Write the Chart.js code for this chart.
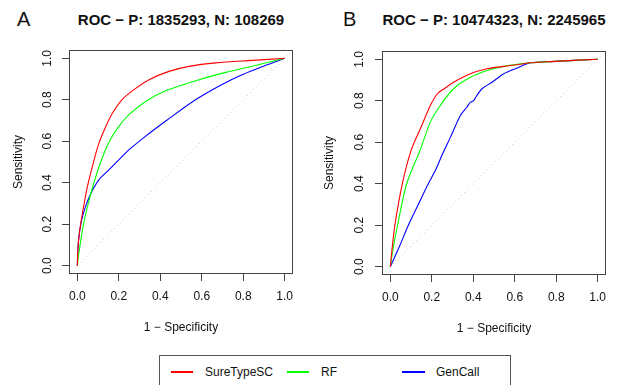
<!DOCTYPE html>
<html>
<head>
<meta charset="utf-8">
<script src="https://cdn.jsdelivr.net/npm/chart.js@4.4.1/dist/chart.umd.min.js"></script>
<style>
html,body{margin:0;padding:0;background:#fff;}
#wrap{position:relative;width:620px;height:385px;overflow:hidden;font-family:"Liberation Sans",Arial,Helvetica,sans-serif;color:#111;}
canvas{position:absolute;top:0;}
.ttl{position:absolute;font-weight:bold;font-size:15px;white-space:nowrap;transform:translate(-50%,-50%);top:19px;}
.let{position:absolute;font-size:20px;line-height:20px;top:9px;}
#legend{position:absolute;left:159px;top:355px;width:352px;height:60px;border:1px solid #555;box-sizing:border-box;}
.sw{position:absolute;height:1.5px;top:371px;}
.lt{position:absolute;font-size:12px;line-height:14px;top:364.5px;white-space:nowrap;}
</style>
</head>
<body>
<div id="wrap">
  <div class="let" style="left:17px;">A</div>
  <div class="ttl" id="titleA" style="left:181px;"></div>
  <div class="let" style="left:343px;">B</div>
  <div class="ttl" id="titleB" style="left:494px;"></div>
  <canvas id="cA" width="310" height="340" style="left:0;width:310px;height:340px;"></canvas>
  <canvas id="cB" width="310" height="340" style="left:310px;width:310px;height:340px;"></canvas>
  <div id="legend"></div>
  <div class="sw" style="left:171px;width:22px;background:#ff0000;"></div>
  <div class="lt" style="left:205px;" id="lg0"></div>
  <div class="sw" style="left:287px;width:22px;background:#00ff00;"></div>
  <div class="lt" style="left:321px;" id="lg1"></div>
  <div class="sw" style="left:402px;width:23px;background:#0000ff;"></div>
  <div class="lt" style="left:436px;" id="lg2"></div>
</div>
<script>
// ---------- data ----------
const seriesNames = ["SureTypeSC", "RF", "GenCall"];
const titleA = "ROC \u2212 P: 1835293, N: 108269";
const titleB = "ROC \u2212 P: 10474323, N: 2245965";
const xAxisTitle = "1 \u2212 Specificity";
const yAxisTitle = "Sensitivity";
const xTicks = [0, 0.2, 0.4, 0.6, 0.8, 1.0];
const yTicks = [0, 0.2, 0.4, 0.6, 0.8, 1.0];
const diagX = [-0.04, 1.04];
const diagY = [-0.04, 1.04];

// Panel A
const sureA_x = [0, 0.003, 0.008, 0.016, 0.033, 0.053, 0.077, 0.104, 0.137, 0.169, 0.215, 0.273, 0.346, 0.442, 0.539, 0.667, 0.844, 1];
const sureA_y = [0, 0.08, 0.14, 0.2, 0.3, 0.4, 0.495, 0.59, 0.67, 0.735, 0.8, 0.849, 0.897, 0.937, 0.961, 0.978, 0.99, 1];
const rfA_x = [0, 0.006, 0.015, 0.03, 0.053, 0.08, 0.113, 0.15, 0.193, 0.249, 0.33, 0.426, 0.587, 0.715, 0.844, 0.94, 1];
const rfA_y = [0, 0.05, 0.11, 0.2, 0.3, 0.4, 0.5, 0.59, 0.662, 0.728, 0.792, 0.843, 0.897, 0.932, 0.962, 0.986, 1];
const gcA_x = [0, 0.002, 0.005, 0.01, 0.017, 0.026, 0.038, 0.055, 0.075, 0.103, 0.151, 0.199, 0.247, 0.33, 0.43, 0.57, 0.7, 0.8, 0.9, 1];
const gcA_y = [0, 0.06, 0.11, 0.156, 0.2, 0.24, 0.28, 0.325, 0.367, 0.413, 0.461, 0.509, 0.557, 0.625, 0.70, 0.80, 0.875, 0.923, 0.963, 1];

// Panel B
const sureB_x = [0, 0.008, 0.022, 0.058, 0.1, 0.145, 0.193, 0.228, 0.26, 0.305, 0.386, 0.466, 0.547, 0.627, 0.675, 0.772, 1];
const sureB_y = [0, 0.08, 0.2, 0.4, 0.56, 0.665, 0.777, 0.835, 0.858, 0.889, 0.93, 0.954, 0.966, 0.976, 0.983, 0.989, 1];
const rfB_x = [0, 0.012, 0.035, 0.079, 0.145, 0.193, 0.241, 0.305, 0.386, 0.466, 0.547, 0.627, 0.675, 0.772, 1];
const rfB_y = [0, 0.08, 0.2, 0.4, 0.565, 0.697, 0.777, 0.858, 0.913, 0.946, 0.966, 0.978, 0.983, 0.989, 1];
const gcB_x = [0, 0.045, 0.087, 0.135, 0.183, 0.22, 0.249, 0.288, 0.338, 0.37, 0.386, 0.402, 0.415, 0.442, 0.49, 0.547, 0.61, 0.675, 0.772, 1];
const gcB_y = [0, 0.1, 0.2, 0.3, 0.4, 0.47, 0.537, 0.62, 0.729, 0.77, 0.793, 0.801, 0.822, 0.858, 0.889, 0.93, 0.957, 0.983, 0.989, 1];

const colors = ["#ff0000", "#00ff00", "#0000ff"];
// ---------- end data ----------

document.getElementById('titleA').textContent = titleA;
document.getElementById('titleB').textContent = titleB;
seriesNames.forEach((n, i) => document.getElementById('lg' + i).textContent = n);

const FONT = '"Liberation Sans", Arial, Helvetica, sans-serif';
const TXT = '#111';
const AX = '#444';

function pts(xs, ys) { return xs.map((x, i) => ({x: x, y: ys[i]})); }

const boxPlugin = {
  id: 'box',
  afterDatasetsDraw(chart) {
    const a = chart.chartArea, c = chart.ctx;
    c.save();
    c.strokeStyle = AX;
    c.lineWidth = 1;
    c.strokeRect(Math.round(a.left) + 0.5, Math.round(a.top) + 0.5, Math.round(a.right - a.left) - 1, Math.round(a.bottom - a.top) - 1);
    c.restore();
  }
};

function makePanel(id, lines, geo) {
  const datasets = lines.map((l, i) => ({
    label: seriesNames[i],
    data: pts(l[0], l[1]),
    showLine: true,
    borderColor: colors[i],
    backgroundColor: colors[i],
    borderWidth: 1.1,
    pointRadius: 0,
    tension: 0.3,
    fill: false
  }));
  datasets.push({
    label: 'diag',
    data: pts(diagX, diagY),
    showLine: true,
    borderColor: '#c4c4c4',
    borderWidth: 1,
    borderDash: [1, 3],
    pointRadius: 0,
    fill: false
  });
  new Chart(document.getElementById(id), {
    type: 'scatter',
    data: {datasets},
    plugins: [boxPlugin],
    options: {
      responsive: false,
      animation: false,
      devicePixelRatio: 1,
      layout: {padding: {left: 0, right: geo.padR, top: geo.top, bottom: 0}},
      plugins: {legend: {display: false}, tooltip: {enabled: false}},
      scales: {
        x: {
          type: 'linear', position: 'bottom', min: -0.04, max: 1.04,
          afterBuildTicks: s => { s.ticks = xTicks.map(v => ({value: v})); },
          afterFit: s => { s.height = geo.xH; },
          border: {display: false},
          grid: {display: true, drawOnChartArea: false, drawTicks: true, tickLength: 7, color: AX, lineWidth: 1},
          ticks: {autoSkip: false, maxRotation: 0, minRotation: 0, padding: 8.5, color: TXT,
                  font: {family: FONT, size: 12}, callback: v => Number(v).toFixed(1)},
          title: {display: true, text: xAxisTitle, color: TXT, font: {family: FONT, size: 12},
                  padding: {top: 0, bottom: geo.xTitlePad}}
        },
        y: {
          type: 'linear', position: 'left', min: -0.04, max: 1.04,
          afterBuildTicks: s => { s.ticks = yTicks.map(v => ({value: v})); },
          afterFit: s => { s.width = geo.yW; },
          border: {display: false},
          grid: {display: true, drawOnChartArea: false, drawTicks: true, tickLength: 7, color: AX, lineWidth: 1},
          ticks: {autoSkip: false, minRotation: 90, maxRotation: 90, crossAlign: 'center', padding: geo.yTickPad,
                  color: TXT, font: {family: FONT, size: 12}, callback: v => Number(v).toFixed(1)},
          title: {display: true, text: yAxisTitle, color: TXT, font: {family: FONT, size: 12},
                  padding: {top: geo.yTitlePad, bottom: 0}}
        }
      }
    }
  });
}

makePanel('cA', [[sureA_x, sureA_y], [rfA_x, rfA_y], [gcA_x, gcA_y]],
  {padR: 17, top: 50, xH: 66, yW: 69, xTitlePad: 5, yTickPad: 6, yTitlePad: 11});
makePanel('cB', [[sureB_x, sureB_y], [rfB_x, rfB_y], [gcB_x, gcB_y]],
  {padR: 14, top: 51, xH: 65, yW: 72, xTitlePad: 4.5, yTickPad: 7, yTitlePad: 12});
</script>
</body>
</html>
